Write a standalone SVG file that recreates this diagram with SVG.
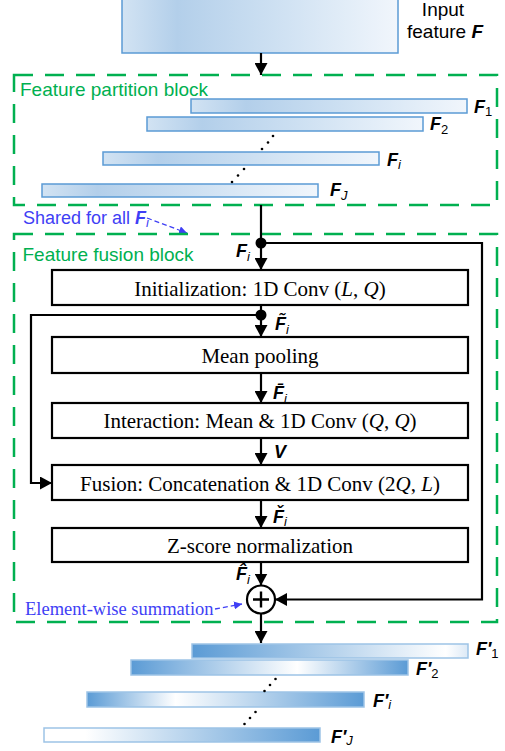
<svg xmlns="http://www.w3.org/2000/svg" width="505" height="751" viewBox="0 0 505 751">
<style>
.sans{font-family:"Liberation Sans",Arial,sans-serif}
.serif{font-family:"Liberation Serif","Times New Roman",serif}
.grn{fill:#00b050;font-size:19px}
.blu{fill:#3f3ff5}
.lbl{font-family:"Liberation Sans",Arial,sans-serif;font-size:18px;fill:#000}
.F{font-weight:bold;font-style:italic}
.sub{font-size:13px;font-weight:normal;font-style:normal}
.subi{font-size:13px;font-weight:normal;font-style:italic}
.box rect{fill:#fff;stroke:#000;stroke-width:2.2}
.box text{font-family:"Liberation Serif","Times New Roman",serif;font-size:21px;fill:#000;text-anchor:middle}
.pbar{stroke:#5b9bd5;stroke-width:1.5}
.obar{stroke:#9dc3e6;stroke-width:1.5}
.gbox{fill:none;stroke:#00b050;stroke-width:2.5;stroke-dasharray:19 12}
.wire{fill:none;stroke:#000;stroke-width:2.2}
.dash{fill:none;stroke:#3f3ff5;stroke-width:1.3;stroke-dasharray:5 3}
.dot{fill:#000}
</style>
<defs>
<linearGradient id="gp" x1="0" y1="0" x2="1" y2="0">
<stop offset="0" stop-color="#d2e3f3"/>
<stop offset="0.2" stop-color="#b3cfea"/>
<stop offset="0.55" stop-color="#cde0f2"/>
<stop offset="1" stop-color="#f1f6fc"/>
</linearGradient>
<linearGradient id="go1" x1="0" y1="0" x2="1" y2="0">
<stop offset="0" stop-color="#5b9bd5"/>
<stop offset="0.92" stop-color="#ffffff"/>
<stop offset="1" stop-color="#dce9f6"/>
</linearGradient>
<linearGradient id="go2" x1="0" y1="0" x2="1" y2="0">
<stop offset="0" stop-color="#5b9bd5"/>
<stop offset="0.6" stop-color="#ffffff"/>
<stop offset="1" stop-color="#5b9bd5"/>
</linearGradient>
<linearGradient id="go3" x1="0" y1="0" x2="1" y2="0">
<stop offset="0" stop-color="#5b9bd5"/>
<stop offset="0.32" stop-color="#ffffff"/>
<stop offset="1" stop-color="#5b9bd5"/>
</linearGradient>
<linearGradient id="go4" x1="0" y1="0" x2="1" y2="0">
<stop offset="0" stop-color="#ffffff"/>
<stop offset="0.15" stop-color="#ffffff"/>
<stop offset="1" stop-color="#5b9bd5"/>
</linearGradient>
<marker id="ah" markerUnits="userSpaceOnUse" markerWidth="13" markerHeight="13" refX="12" refY="6.5" orient="auto">
<path d="M0,0 L12,6.5 L0,13 z" fill="#000"/>
</marker>
<marker id="bh" markerUnits="userSpaceOnUse" markerWidth="8" markerHeight="8" refX="8" refY="4" orient="auto">
<path d="M0,0 L8,4 L0,8 z" fill="#3f3ff5"/>
</marker>
</defs>

<g id="input">
<rect x="122" y="-2" width="276" height="55" fill="url(#gp)" class="pbar"/>
<text class="sans" font-size="19" text-anchor="middle" x="443" y="15.5">Input</text>
<text class="sans" font-size="19" text-anchor="middle" x="445" y="37.5">feature <tspan class="F">F</tspan></text>
</g>

<g id="partition">
<rect class="gbox" x="14" y="75" width="483" height="130"/>
<text class="sans grn" x="20" y="95.5">Feature partition block</text>
<rect x="191" y="99" width="276" height="14" fill="url(#gp)" class="pbar"/>
<rect x="147" y="117" width="276" height="14" fill="url(#gp)" class="pbar"/>
<rect x="103" y="152" width="276" height="13" fill="url(#gp)" class="pbar"/>
<rect x="42" y="184" width="276" height="13" fill="url(#gp)" class="pbar"/>
<circle class="dot" cx="273" cy="136" r="1.3"/><circle class="dot" cx="268" cy="142.5" r="1.3"/><circle class="dot" cx="262" cy="149" r="1.3"/>
<circle class="dot" cx="244" cy="169" r="1.3"/><circle class="dot" cx="238" cy="175.5" r="1.3"/><circle class="dot" cx="232" cy="182" r="1.3"/>
<text class="lbl" x="474" y="112.5"><tspan class="F">F</tspan><tspan class="sub" dy="3.5">1</tspan></text>
<text class="lbl" x="430" y="130"><tspan class="F">F</tspan><tspan class="sub" dy="3.5">2</tspan></text>
<text class="lbl" x="387" y="165.5"><tspan class="F">F</tspan><tspan class="subi" dy="3.5">i</tspan></text>
<text class="lbl" x="330" y="196"><tspan class="F">F</tspan><tspan class="subi" dy="3.5">J</tspan></text>
</g>

<g id="shared-note">
<text class="sans blu" font-size="18" x="23" y="224">Shared for all <tspan class="F">F</tspan><tspan class="subi" dy="3">i</tspan></text>
<path class="dash" d="M147,218 L187,233" marker-end="url(#bh)"/>
</g>

<g id="fusion-block">
<rect class="gbox" x="14" y="234" width="483" height="388"/>
<text class="sans grn" x="22.5" y="260.5">Feature fusion block</text>
</g>

<g id="init" class="box">
<rect x="52" y="270" width="416" height="35"/>
<text x="260" y="295.5">Initialization: 1D Conv (<tspan font-style="italic">L</tspan>, <tspan font-style="italic">Q</tspan>)</text>
</g>
<g id="meanpool" class="box">
<rect x="52" y="337" width="416" height="36"/>
<text x="260" y="363">Mean pooling</text>
</g>
<g id="interaction" class="box">
<rect x="52" y="403" width="416" height="35"/>
<text x="260" y="428">Interaction: Mean &amp; 1D Conv (<tspan font-style="italic">Q</tspan>, <tspan font-style="italic">Q</tspan>)</text>
</g>
<g id="fusion" class="box">
<rect x="52" y="465" width="416" height="35"/>
<text x="260" y="490.5">Fusion: Concatenation &amp; 1D Conv (2<tspan font-style="italic">Q</tspan>, <tspan font-style="italic">L</tspan>)</text>
</g>
<g id="zscore" class="box">
<rect x="52" y="528" width="416" height="34"/>
<text x="260" y="553">Z-score normalization</text>
</g>

<g id="sum">
<circle cx="261" cy="599.5" r="14" fill="#fff" stroke="#000" stroke-width="2.2"/>
<path d="M253,599.5 H269 M261,591.5 V607.5" stroke="#000" stroke-width="2.4"/>
<text class="serif blu" font-size="18.5" x="25" y="615">Element-wise summation</text>
<path class="dash" d="M215,609 L242,604" marker-end="url(#bh)"/>
</g>

<g id="connectors">
<path class="wire" d="M261,53 V75" marker-end="url(#ah)"/>
<path class="wire" d="M261,205 V270" marker-end="url(#ah)"/>
<path class="wire" d="M261,243 H482 V599.5 H275" marker-end="url(#ah)"/>
<circle class="dot" cx="261" cy="243" r="5.5"/>
<path class="wire" d="M261,305 V337" marker-end="url(#ah)"/>
<path class="wire" d="M261,315 H31 V483 H52" marker-end="url(#ah)"/>
<circle class="dot" cx="261" cy="315" r="5.5"/>
<path class="wire" d="M261,373 V403" marker-end="url(#ah)"/>
<path class="wire" d="M261,438 V465" marker-end="url(#ah)"/>
<path class="wire" d="M261,500 V528" marker-end="url(#ah)"/>
<path class="wire" d="M261,562 V585.5" marker-end="url(#ah)"/>
<path class="wire" d="M261,613.5 V643" marker-end="url(#ah)"/>
</g>

<g id="flow-labels">
<text class="lbl" x="236" y="257"><tspan class="F">F</tspan><tspan class="subi" dy="3.5">i</tspan></text>
<text class="lbl" x="275" y="330"><tspan class="F">F̃</tspan><tspan class="subi" dy="3.5">i</tspan></text>
<text class="lbl" x="273" y="399"><tspan class="F">F̄</tspan><tspan class="subi" dy="3.5">i</tspan></text>
<text class="lbl" x="274" y="458"><tspan class="F">V</tspan></text>
<text class="lbl" x="273" y="522.5"><tspan class="F">F̌</tspan><tspan class="subi" dy="3.5">i</tspan></text>
<text class="lbl" x="236" y="580"><tspan class="F">F̂</tspan><tspan class="subi" dy="3.5">i</tspan></text>
</g>

<g id="output">
<rect x="192" y="644" width="276" height="14" fill="url(#go1)" class="obar"/>
<rect x="131" y="660" width="277" height="15" fill="url(#go2)" class="obar"/>
<rect x="87" y="692" width="277" height="15" fill="url(#go3)" class="obar"/>
<rect x="44" y="728" width="276" height="14" fill="url(#go4)" class="obar"/>
<circle class="dot" cx="275.5" cy="679" r="1.3"/><circle class="dot" cx="270" cy="685" r="1.3"/><circle class="dot" cx="264.5" cy="691" r="1.3"/>
<circle class="dot" cx="255.5" cy="712" r="1.3"/><circle class="dot" cx="250" cy="718" r="1.3"/><circle class="dot" cx="244.5" cy="724" r="1.3"/>
<text class="lbl" x="476" y="655"><tspan class="F">F′</tspan><tspan class="sub" dy="2.5">1</tspan></text>
<text class="lbl" x="416" y="675"><tspan class="F">F′</tspan><tspan class="sub" dy="2.5">2</tspan></text>
<text class="lbl" x="373" y="706.5"><tspan class="F">F′</tspan><tspan class="subi" dy="2.5">i</tspan></text>
<text class="lbl" x="331" y="742.5"><tspan class="F">F′</tspan><tspan class="subi" dy="2.5">J</tspan></text>
</g>
</svg>
